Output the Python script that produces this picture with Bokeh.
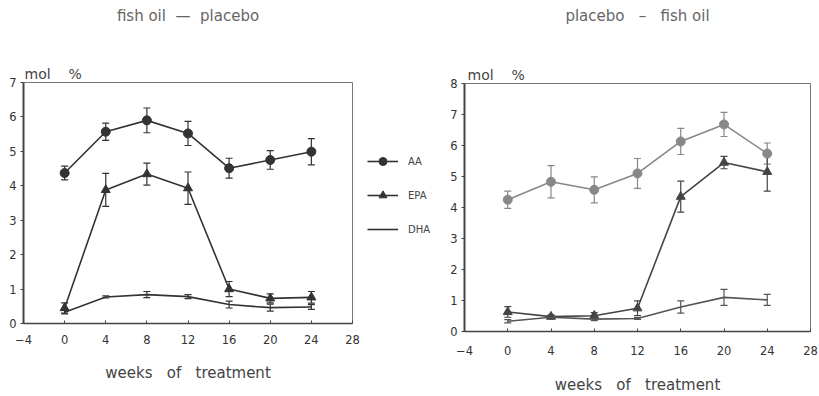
from bokeh.plotting import figure
from bokeh.layouts import row
from bokeh.models import (ColumnDataSource, Whisker, TeeHead, Legend, LegendItem,
                          FixedTicker, Range1d, Title, LinearAxis)
from bokeh.embed import file_html
from bokeh.resources import INLINE

weeks = [0, 4, 8, 12, 16, 20, 24]
x_ticks = [-4, 0, 4, 8, 12, 16, 20, 24, 28]

# fish oil - placebo
aa_fp = [4.37, 5.57, 5.90, 5.52, 4.51, 4.75, 4.99]
aa_fp_err = [0.20, 0.25, 0.36, 0.35, 0.29, 0.27, 0.38]
epa_fp = [0.45, 3.88, 4.34, 3.93, 1.00, 0.73, 0.76]
epa_fp_err = [0.15, 0.48, 0.32, 0.47, 0.22, 0.13, 0.17]
dha_fp = [0.33, 0.77, 0.84, 0.78, 0.55, 0.46, 0.48]
dha_fp_err = [0.05, 0.03, 0.09, 0.06, 0.10, 0.10, 0.07]

# placebo - fish oil
aa_pf = [4.25, 4.83, 4.57, 5.10, 6.13, 6.68, 5.74]
aa_pf_err = [0.28, 0.52, 0.42, 0.48, 0.42, 0.39, 0.34]
epa_pf = [0.63, 0.48, 0.51, 0.75, 4.35, 5.45, 5.15]
epa_pf_err = [0.17, 0.06, 0.10, 0.24, 0.50, 0.20, 0.62]
dha_pf = [0.33, 0.46, 0.40, 0.42, 0.79, 1.10, 1.02]
dha_pf_err = [0.05, 0.05, 0.05, 0.03, 0.20, 0.26, 0.18]

legend_labels = ["AA", "EPA", "DHA"]

FONT = "DejaVu Sans"
NB = "\u00a0"
DARK = "#333333"


def make_fig(width, height, ymax, yticks, mb, tick_standoff, label_standoff):
    p = figure(width=width, height=height, output_backend="svg", toolbar_location=None,
               x_range=Range1d(-4, 28), y_range=Range1d(0, ymax),
               min_border_left=mb[0], min_border_right=mb[1],
               min_border_top=mb[2], min_border_bottom=mb[3])
    p.frame_align = False
    p.xgrid.visible = False
    p.ygrid.visible = False
    p.outline_line_color = "#777777"
    p.outline_line_width = 1
    p.background_fill_color = "white"
    p.border_fill_color = "white"
    p.xaxis.ticker = FixedTicker(ticks=x_ticks)
    p.yaxis.ticker = FixedTicker(ticks=yticks)
    for ax in (p.xaxis[0], p.yaxis[0]):
        ax.major_label_text_font = FONT
        ax.major_label_text_font_size = "11.5px"
        ax.major_label_text_color = "#333333"
        ax.minor_tick_line_color = None
        ax.axis_line_color = "#444444"
        ax.major_tick_line_color = "#444444"
    p.yaxis.axis_line_width = 2
    p.yaxis.major_tick_out = 3
    p.yaxis.major_tick_in = 0
    p.yaxis.major_label_standoff = 4
    p.xaxis.axis_line_width = 1.5
    p.xaxis.major_tick_out = 0
    p.xaxis.major_tick_in = 3
    p.xaxis.major_label_standoff = tick_standoff
    p.xaxis.axis_label = "weeks" + NB * 3 + "of" + NB * 3 + "treatment"
    p.xaxis.axis_label_text_font = FONT
    p.xaxis.axis_label_text_font_size = "15px"
    p.xaxis.axis_label_text_font_style = "normal"
    p.xaxis.axis_label_text_color = "#444444"
    p.xaxis.axis_label_standoff = label_standoff
    return p


def series(p, x, y, err, color, marker):
    src = ColumnDataSource(dict(x=x, y=y,
                                upper=[a + e for a, e in zip(y, err)],
                                lower=[a - e for a, e in zip(y, err)]))
    w = Whisker(base="x", upper="upper", lower="lower", source=src,
                line_color=color, line_width=1.2,
                upper_head=TeeHead(size=7, line_color=color, line_width=1.2),
                lower_head=TeeHead(size=7, line_color=color, line_width=1.2))
    p.add_layout(w)
    p.line("x", "y", source=src, line_color=color, line_width=1.6)
    if marker is not None:
        p.scatter("x", "y", source=src, marker=marker, size=9,
                  fill_color=color, line_color=color)
    return src


def titles(p, main, mol_offset, main_standoff):
    p.add_layout(Title(text="mol" + NB * 4 + "%", align="left", offset=mol_offset,
                       standoff=1, text_font=FONT, text_font_size="14px",
                       text_font_style="normal", text_color="#444444"), "above")
    top = LinearAxis(ticker=FixedTicker(ticks=[]), axis_label=main,
                     axis_line_color=None, major_tick_line_color=None,
                     minor_tick_line_color=None, major_tick_out=0, major_tick_in=0,
                     major_label_standoff=0, axis_label_standoff=main_standoff,
                     axis_label_text_font=FONT, axis_label_text_font_size="15px",
                     axis_label_text_font_style="normal",
                     axis_label_text_color="#666666")
    p.add_layout(top, "above")


# left panel
pl = make_fig(360, 396, 7, list(range(0, 8)), (23, 8, 82, 73), 11, 17)
src_aa = series(pl, weeks, aa_fp, aa_fp_err, DARK, "circle")
src_epa = series(pl, weeks, epa_fp, epa_fp_err, DARK, "triangle")
src_dha = series(pl, weeks, dha_fp, dha_fp_err, DARK, None)
titles(pl, "fish" + NB + "oil" + NB * 2 + "\u2014" + NB * 2 + "placebo", 1, 39)

# legend strip between the panels (hidden copies of the left-panel series)
pg = figure(width=80, height=396, output_backend="svg", toolbar_location=None,
            x_axis_location=None, y_axis_location=None,
            min_border_left=0, min_border_right=0, min_border_top=0, min_border_bottom=0)
pg.frame_align = False
pg.outline_line_color = None
pg.xgrid.visible = False
pg.ygrid.visible = False
items = []
for lab, src, mk in zip(legend_labels, [src_aa, src_epa, src_dha],
                        ["circle", "triangle", None]):
    rs = [pg.line("x", "y", source=src, line_color=DARK, line_width=1.6)]
    if mk is not None:
        rs.append(pg.scatter("x", "y", source=src, marker=mk, size=9,
                             fill_color=DARK, line_color=DARK))
    for r in rs:
        r.visible = False
    items.append(LegendItem(label=lab, renderers=rs))
legend = Legend(items=items, location=(7, 157), padding=0, margin=0, spacing=14,
                glyph_width=31, glyph_height=20, label_standoff=10,
                label_text_font=FONT, label_text_font_size="10px",
                label_text_color="#444444", inactive_fill_alpha=0,
                border_line_alpha=0, background_fill_alpha=0)
pg.add_layout(legend)

# right panel
pr = make_fig(379, 396, 8, list(range(0, 9)), (24, 9, 83, 63), 14, 18)
series(pr, weeks, aa_pf, aa_pf_err, "#888888", "circle")
series(pr, weeks, epa_pf, epa_pf_err, "#444444", "triangle")
series(pr, weeks, dha_pf, dha_pf_err, "#555555", None)
titles(pr, "placebo" + NB * 3 + "\u2013" + NB * 3 + "fish" + NB + "oil", 3, 40)

layout = row(pl, pg, pr, spacing=0)
open("out.html", "w").write(file_html(layout, INLINE))
